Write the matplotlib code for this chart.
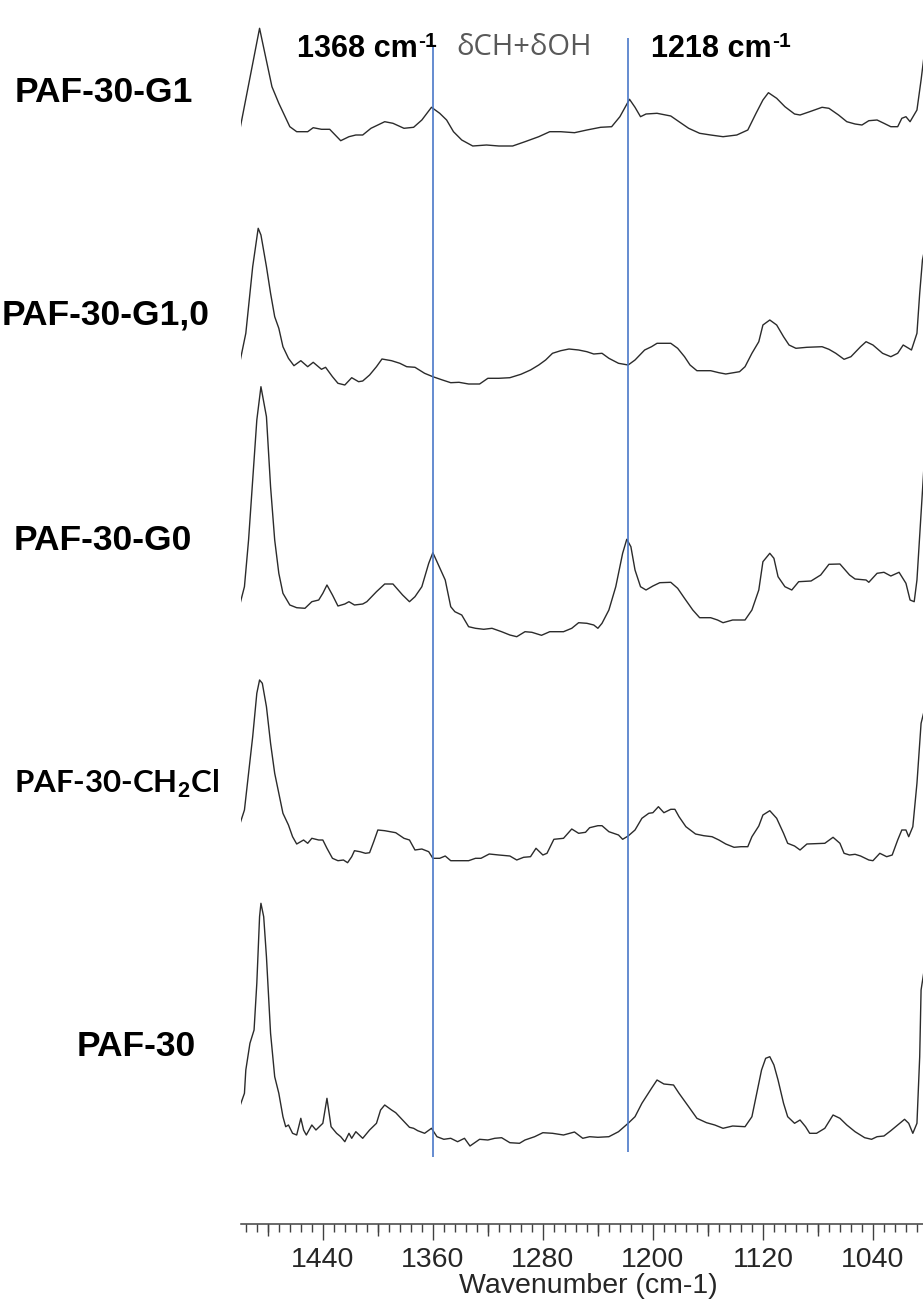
import matplotlib.pyplot as plt
from matplotlib.ticker import MultipleLocator

plt.rcParams['font.family'] = ['Liberation Sans', 'DejaVu Sans']
plt.rcParams['mathtext.fontset'] = 'custom'
plt.rcParams['mathtext.rm'] = 'Liberation Sans'
plt.rcParams['mathtext.bf'] = 'Liberation Sans:bold'

# FTIR spectra, intensity in a.u. above each trace's own baseline
wn_g1 = [1500, 1486, 1477, 1472, 1464, 1459, 1451, 1447, 1441, 1435, 1427, 1421, 1416, 1411,
         1405, 1395, 1389, 1381, 1374, 1368, 1361, 1355, 1350, 1345, 1339, 1331, 1321, 1312,
         1302, 1293, 1283, 1275, 1267, 1257, 1248, 1238, 1230, 1224, 1217, 1213, 1209, 1205,
         1197, 1187, 1181, 1174, 1166, 1158, 1149, 1139, 1131, 1125, 1120, 1116, 1110, 1104,
         1097, 1093, 1086, 1077, 1072, 1065, 1059, 1053, 1048, 1043, 1037, 1032, 1027, 1022,
         1019, 1016, 1013, 1008, 1005, 1002]
int_g1 = [22.7, 121.7, 63.3, 46.7, 23.3, 18.3, 18.3, 22.3, 20.7, 20.7, 9.3, 13.3, 15, 15,
          21.7, 28.3, 26.7, 21.7, 22.7, 30, 42.7, 36.7, 30, 18.3, 10, 4, 5, 4,
          4, 8.3, 13.3, 18.3, 18.3, 17.3, 20, 22.7, 23.3, 33.3, 50.7, 42.7, 33.3, 36,
          36.7, 34, 28.3, 21.7, 16.7, 15, 13.3, 15, 20, 36.7, 50, 57.3, 51.7, 43.3,
          36, 35, 38.3, 42.7, 41.7, 35, 28.3, 26, 25, 29.3, 30, 26.7, 23.3, 23.3,
          31.7, 33.3, 28.3, 40, 70, 103.3]

wn_g10 = [1500, 1496, 1491, 1487, 1485, 1481, 1478, 1475, 1472, 1469, 1465, 1461, 1456, 1451,
          1447, 1441, 1438, 1433, 1429, 1424, 1419, 1414, 1411, 1406, 1401, 1397, 1390, 1384,
          1379, 1373, 1366, 1360, 1353, 1347, 1341, 1334, 1326, 1320, 1312, 1304, 1296, 1289,
          1283, 1278, 1273, 1267, 1261, 1254, 1248, 1243, 1237, 1232, 1225, 1218, 1213, 1206,
          1201, 1197, 1187, 1182, 1177, 1173, 1168, 1158, 1152, 1147, 1137, 1133, 1128, 1123,
          1120, 1115, 1110, 1105, 1101, 1096, 1088, 1077, 1072, 1067, 1061, 1056, 1049, 1045,
          1040, 1033, 1027, 1022, 1018, 1014, 1012, 1008, 1006, 1004, 1002]
int_g10 = [30, 56.7, 123.3, 161.7, 155, 123.3, 96.7, 73.3, 61.7, 43.3, 31.7, 24.3, 29.3, 23.3,
           27.7, 20.7, 22.7, 13.3, 6.7, 5, 12.3, 8.3, 9, 15, 23.3, 31, 29.3, 26.7,
           23.3, 22.7, 16.7, 13.3, 10, 7.3, 7.7, 6, 6, 11.7, 11.7, 12.3, 15.7, 20,
           25, 30, 36.7, 39.3, 41, 40, 38.3, 36, 36.7, 31.7, 26.7, 25, 30, 40,
           43.3, 46.7, 46.7, 41.7, 33.3, 25, 19.3, 19.3, 17.3, 16, 18.3, 23.3, 36.7, 48.3,
           65, 70, 65, 53.3, 45, 41.7, 42.7, 43.3, 40.7, 36.7, 30.7, 33.3, 43.3, 48.3,
           45, 36.7, 33.3, 36.7, 45, 41.7, 40, 56.7, 96.7, 130, 143.3]

wn_g0 = [1500, 1497, 1494, 1491, 1488, 1485, 1481, 1478, 1475, 1472, 1469, 1464, 1459, 1453,
         1448, 1443, 1440, 1437, 1433, 1429, 1424, 1421, 1417, 1411, 1408, 1401, 1395, 1389,
         1382, 1377, 1373, 1368, 1363, 1360, 1357, 1351, 1347, 1344, 1339, 1334, 1329, 1323,
         1317, 1310, 1304, 1299, 1293, 1288, 1281, 1275, 1265, 1259, 1254, 1248, 1243, 1240,
         1237, 1232, 1227, 1222, 1219, 1216, 1213, 1209, 1205, 1200, 1195, 1187, 1182, 1177,
         1171, 1166, 1158, 1153, 1149, 1142, 1133, 1128, 1123, 1120, 1115, 1112, 1109, 1104,
         1099, 1094, 1085, 1078, 1072, 1064, 1057, 1053, 1045, 1043, 1037, 1032, 1027, 1021,
         1016, 1013, 1010, 1008, 1005, 1002]
int_g0 = [37.3, 53.3, 100, 160, 220, 253.3, 223.3, 153.3, 100, 66.7, 46.7, 35, 32.3, 31.7,
          38.3, 40, 46.7, 55, 45, 34, 36, 38.3, 35, 36, 38.3, 48.3, 56, 56,
          45, 38.3, 43.3, 53.3, 76.7, 87.3, 78.3, 60, 33.3, 28.3, 25, 13.3, 11.7, 10.7,
          11.7, 8.3, 5, 3.3, 8.3, 7.7, 4.7, 8.3, 8.3, 11.7, 17.3, 16.7, 15, 11.7,
          16.7, 30, 53.3, 86.7, 100.7, 93.3, 70, 53.3, 50, 54, 57.3, 57.7, 51.7, 41.7,
          30, 22.3, 22.3, 20, 17.3, 20, 20, 30, 50, 78.3, 86.7, 81.7, 63.3, 53.3,
          50, 58.3, 59, 65, 75.7, 76, 65, 61, 60, 57.7, 66.7, 67.7, 64, 67.7,
          56.7, 40, 38.3, 60, 126.7, 193.3]

wn_ch2cl = [1500, 1497, 1494, 1491, 1488, 1486, 1484, 1481, 1478, 1475, 1472, 1469, 1465, 1462,
            1459, 1454, 1451, 1448, 1443, 1440, 1437, 1433, 1429, 1425, 1422, 1419, 1417, 1413,
            1409, 1406, 1403, 1400, 1395, 1387, 1381, 1377, 1373, 1368, 1363, 1360, 1355, 1351,
            1347, 1341, 1334, 1329, 1325, 1319, 1312, 1304, 1299, 1294, 1289, 1285, 1280, 1277,
            1272, 1265, 1259, 1254, 1249, 1246, 1240, 1237, 1232, 1225, 1222, 1218, 1213, 1208,
            1203, 1200, 1196, 1192, 1187, 1184, 1181, 1176, 1169, 1163, 1157, 1152, 1147, 1141,
            1136, 1131, 1128, 1123, 1120, 1115, 1110, 1105, 1102, 1097, 1093, 1088, 1075, 1069,
            1064, 1061, 1057, 1053, 1049, 1043, 1040, 1035, 1030, 1026, 1022, 1019, 1016, 1014,
            1011, 1008, 1005, 1002]
int_ch2cl = [42.3, 55, 91.7, 128.3, 171.7, 185, 181.7, 158.3, 121.7, 91.7, 71.7, 51.7, 40, 28.3,
             21, 25, 21.7, 26.7, 25, 25, 16.7, 6.7, 4.3, 5, 2.3, 8.3, 14.3, 13.3,
             11.7, 12.3, 23.3, 35, 34.3, 32.3, 26.7, 25, 15, 16, 13.3, 6.7, 6.7, 9,
             4.3, 4.3, 4.3, 6.7, 6.7, 11, 10, 9, 5, 7.7, 8.3, 16.7, 10, 11.7,
             25.7, 26.7, 36, 31.7, 32.7, 37.3, 39.3, 39.3, 33.3, 30, 25.7, 29, 35, 46.7,
             51.7, 52.3, 58.3, 52.3, 55.7, 55.7, 48.3, 38.3, 31, 29.3, 28.3, 25, 21, 17.7,
             18.3, 18.3, 28.3, 39, 50, 54.3, 46.7, 31.7, 21.7, 19, 15, 21, 21.7, 27.7,
             21.7, 11.7, 10, 10.7, 9, 5, 4.3, 11.7, 8.3, 10, 25, 35, 35, 28.3,
             38.3, 81.7, 141.7, 158.3]

wn_paf = [1500, 1497, 1496, 1493, 1490, 1488, 1486, 1485, 1483, 1481, 1478, 1475, 1472, 1469,
          1467, 1465, 1462, 1459, 1456, 1454, 1452, 1448, 1445, 1440, 1437, 1434, 1430, 1427,
          1424, 1421, 1419, 1416, 1411, 1406, 1401, 1398, 1395, 1390, 1387, 1382, 1377, 1374,
          1371, 1366, 1361, 1357, 1352, 1347, 1342, 1337, 1333, 1326, 1320, 1315, 1310, 1304,
          1297, 1293, 1286, 1280, 1273, 1265, 1257, 1251, 1246, 1240, 1232, 1225, 1218, 1213,
          1208, 1201, 1197, 1192, 1185, 1181, 1174, 1168, 1161, 1155, 1149, 1142, 1133, 1128,
          1125, 1121, 1118, 1115, 1112, 1109, 1105, 1102, 1097, 1093, 1089, 1086, 1081, 1075,
          1069, 1064, 1059, 1053, 1046, 1041, 1037, 1032, 1027, 1022, 1017, 1014, 1011, 1008,
          1006, 1005, 1002]
int_paf = [45, 56.7, 80, 106.7, 120, 166.7, 233.3, 246.7, 233.3, 193.3, 116.7, 73.3, 56.7, 33.3,
           23.3, 25, 16.7, 15, 31.7, 20, 15, 25, 20, 26.7, 51.7, 23.3, 16.7, 13.3,
           8.3, 16.7, 11.7, 18.3, 11.7, 20, 26.7, 40, 45, 40, 37.3, 30, 22.7, 21.7,
           19.3, 16.7, 21.7, 13.3, 10.7, 11.7, 8.3, 11.7, 4, 10.7, 10, 11.7, 12.3, 7.3,
           6.7, 10, 13.3, 17.3, 16.7, 15, 18, 11.7, 13.3, 12.7, 13.3, 18.3, 26.7, 33.3,
           46.7, 61.7, 70, 66, 65, 56.7, 43.3, 31.7, 27.3, 25, 21.7, 24, 23.3, 33.3,
           53.3, 80, 91.7, 93.3, 85, 70, 46.7, 33.3, 26.7, 30, 23.3, 16.7, 16.7, 21.7,
           35, 31.7, 25, 18.3, 12.3, 10.7, 13.3, 14, 19.3, 25, 30.7, 26.7, 16.7, 26.7,
           93.3, 160, 186.7]

sample_names = ['PAF-30-G1', 'PAF-30-G1,0', 'PAF-30-G0', 'PAF-30-CH$_\\mathbf{2}$Cl', 'PAF-30']
spectra_wn = [wn_g1, wn_g10, wn_g0, wn_ch2cl, wn_paf]
spectra_int = [int_g1, int_g10, int_g0, int_ch2cl, int_paf]
stack_offset = [1074, 834, 584, 359, 74]

# marked bands (line position, bottom, top)
band_wn = [1360, 1218]
band_bottom = [67, 72]
band_top = [1179, 1186]
band_labels = ['1368 cm', '1218 cm']

W, H = 923, 1299
fig = plt.figure(figsize=(W / 100, H / 100), dpi=100)
ax = fig.add_axes([241 / W, (H - 1224) / H, 1 - 241 / W, 1224 / H])

for wn, inten, off in zip(spectra_wn, spectra_int, stack_offset):
    ax.plot(wn, [v + off for v in inten], color='#2b2b2b', lw=1.0)

ax.vlines(band_wn, band_bottom, band_top, color='#4a78c8', lw=1.2)

ax.set_xlim(1499.5, 1003.6)
ax.set_ylim(0, 1224)
for s in ['top', 'left', 'right']:
    ax.spines[s].set_visible(False)
ax.spines['bottom'].set_color('#404040')
ax.spines['bottom'].set_linewidth(1.1)
ax.set_yticks([])

ax.xaxis.set_major_locator(MultipleLocator(80))
ax.xaxis.set_minor_locator(MultipleLocator(8))
ax.tick_params(axis='x', which='major', direction='out', length=11.5, width=1.0,
               color='#404040', labelsize=20.5, labelcolor='#262626', pad=5)
ax.tick_params(axis='x', which='minor', direction='out', length=5.8, width=1.0, color='#404040')

# medium ticks every 40 cm-1
sec = ax.secondary_xaxis('bottom')
sec.set_xticks([1480, 1400, 1320, 1240, 1160, 1080])
sec.tick_params(axis='x', direction='out', length=8.6, width=1.0, color='#404040',
                labelbottom=False)
sec.spines['bottom'].set_visible(False)

fig.text(588 / W, 1 - 1293 / H, 'Wavenumber (cm-1)', ha='center', va='baseline',
         fontsize=20.5, color='#262626')

# band annotations, "cm-1" with a plain hyphen in the superscript
for lbl, lx in zip(band_labels, [297, 651]):
    t = fig.text(lx / W, 1 - 57 / H, lbl, ha='left', va='baseline',
                 fontsize=22, fontweight='bold')
    fig.add_artist(plt.Annotation('-1', xy=(1, 1), xycoords=t, xytext=(0.5, 1.5),
                                  textcoords='offset points', ha='left', va='top',
                                  fontsize=15, fontweight='bold'))

fig.text(456 / W, 1 - 55 / H, 'δCH+δOH', ha='left', va='baseline', fontsize=21,
         color='#595959', family=['Open Sans', 'DejaVu Sans'])

# sample labels
label_x = [15, 2, 14, 14, 77]
label_base = [102, 325, 550, 793, 1056]
for name, lx, ly in zip(sample_names, label_x, label_base):
    if 'CH' in name:
        fig.text(lx / W, 1 - ly / H, name, ha='left', va='baseline', fontsize=22.5,
                 fontweight='bold', family=['Lato', 'DejaVu Sans'])
    else:
        fig.text(lx / W, 1 - ly / H, name, ha='left', va='baseline', fontsize=25.5,
                 fontweight='bold')

fig.savefig('out.png', dpi=100)
